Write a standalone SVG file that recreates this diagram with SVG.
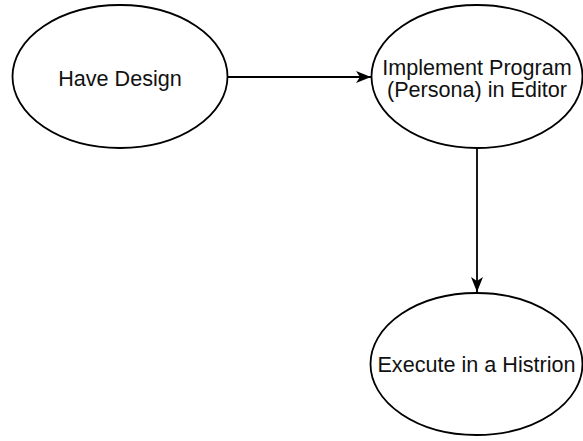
<svg xmlns="http://www.w3.org/2000/svg" width="583" height="441" viewBox="0 0 583 441">
  <style>
    .node ellipse { fill: #ffffff; stroke: #000000; stroke-width: 1.8; }
    .node text { font-family: "Liberation Sans", Arial, Helvetica, sans-serif; font-size: 21.6px; fill: #111111; text-anchor: middle; }
    .edge { fill: none; stroke: #000000; stroke-width: 1.8; marker-end: url(#arrow); }
  </style>
  <defs>
    <marker id="arrow" markerUnits="userSpaceOnUse" viewBox="0 0 15 12" markerWidth="15" markerHeight="12" refX="15" refY="6" orient="auto">
      <path d="M0,0 L15,6 L0,12 L4,6 Z" fill="#000000"/>
    </marker>
  </defs>
  <rect width="583" height="441" fill="#ffffff"/>

  <g id="connectors">
    <line class="edge" x1="228" y1="77" x2="371" y2="77"/>
    <line class="edge" x1="477" y1="148.5" x2="477" y2="292"/>
  </g>

  <g id="have-design" class="node">
    <ellipse cx="120" cy="76.5" rx="107.5" ry="71.5"/>
    <text x="120" y="85.5">Have Design</text>
  </g>

  <g id="implement-program" class="node">
    <ellipse cx="477" cy="76.5" rx="105.5" ry="71.5"/>
    <text x="477" y="75">Implement Program</text>
    <text x="477" y="96.7">(Persona) in Editor</text>
  </g>

  <g id="execute-histrion" class="node">
    <ellipse cx="476.5" cy="364" rx="106" ry="71"/>
    <text x="476.5" y="371.5">Execute in a Histrion</text>
  </g>
</svg>
